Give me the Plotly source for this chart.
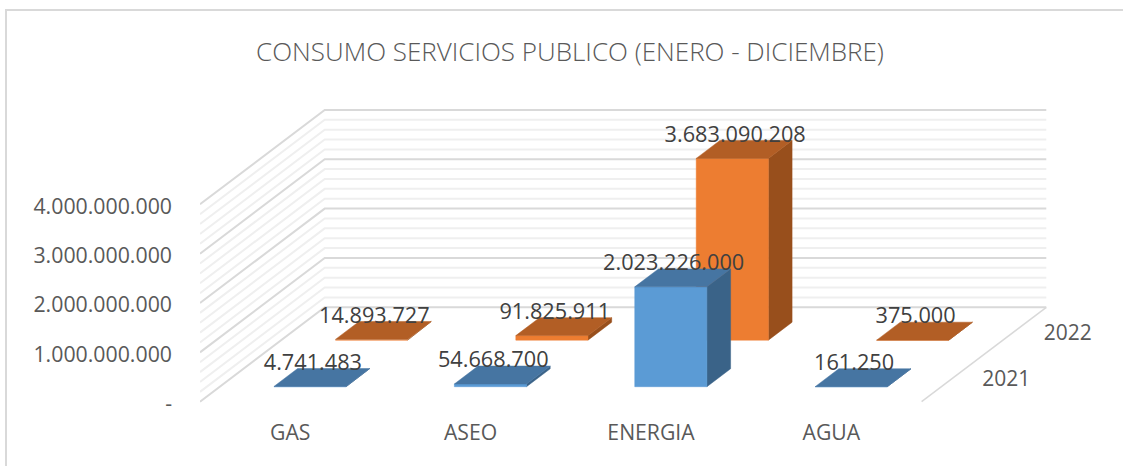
import plotly.graph_objects as go

TITLE = "CONSUMO SERVICIOS PUBLICO (ENERO - DICIEMBRE)"
categories = ["GAS", "ASEO", "ENERGIA", "AGUA"]
series_names = ["2021", "2022"]
values_2021 = [4741483, 54668700, 2023226000, 161250]
values_2022 = [14893727, 91825911, 3683090208, 375000]
value_ticks = [0, 1e9, 2e9, 3e9, 4e9]
value_tick_labels = ["-", "1.000.000.000", "2.000.000.000", "3.000.000.000", "4.000.000.000"]

PX_CAT = 180.4
PX_VAL = 49.35 / 1e9
DEPTH_DX = 124.7 / PX_CAT
DEPTH_DY = 94.4 / PX_VAL
BAR_W = 0.4
BAR_D = 0.19
W, H = 1123, 466
L, R, T, B = 200, 23, 100, 46
Y0 = 401.7


def proj(cat, depth, val):
    return cat + depth * DEPTH_DX, val + depth * DEPTH_DY


def polys(list_of_corners):
    xs, ys = [], []
    for corners in list_of_corners:
        pts = [proj(*c) for c in corners]
        pts.append(pts[0])
        xs += [p[0] for p in pts] + [None]
        ys += [p[1] for p in pts] + [None]
    return xs, ys


fig = go.Figure()


def line(points, color, width):
    pts = [proj(*p) for p in points]
    fig.add_trace(go.Scatter(x=[p[0] for p in pts], y=[p[1] for p in pts], mode="lines",
                             line=dict(color=color, width=width), hoverinfo="skip", showlegend=False))


n = len(categories)
minor = [i * 0.2e9 for i in range(21) if i % 5]
for v in minor:
    line([(0, 0, v), (0, 1, v), (n, 1, v)], "#EFEFEF", 2)
for v in value_ticks:
    line([(0, 0, v), (0, 1, v), (n, 1, v)], "#D9D9D9", 2)
line([(n, 0, 0), (n, 1, 0)], "#D9D9D9", 1.5)

styles = [
    dict(vals=values_2021, d0=0.159, front="#5B9BD5", top="#4675A2", side="#3A6388"),
    dict(vals=values_2022, d0=0.652, front="#ED7D31", top="#B25E25", side="#984F1C"),
]

for st in reversed(styles):
    front, top, side = [], [], []
    d0, d1 = st["d0"], st["d0"] + BAR_D
    for i, v in enumerate(st["vals"]):
        x0, x1 = i + 0.5 - BAR_W / 2, i + 0.5 + BAR_W / 2
        front.append([(x0, d0, 0), (x1, d0, 0), (x1, d0, v), (x0, d0, v)])
        top.append([(x0, d0, v), (x1, d0, v), (x1, d1, v), (x0, d1, v)])
        side.append([(x1, d0, 0), (x1, d1, 0), (x1, d1, v), (x1, d0, v)])
    for faces, key in ((side, "side"), (front, "front"), (top, "top")):
        xs, ys = polys(faces)
        fig.add_trace(go.Scatter(x=xs, y=ys, mode="lines", fill="toself", fillcolor=st[key],
                                 line=dict(color=st[key], width=0.5), hoverinfo="skip", showlegend=False))

lx, ly, lt = [], [], []
for st in styles:
    for i, v in enumerate(st["vals"]):
        px, py = proj(i + 0.5, st["d0"] + BAR_D / 2, v)
        lx.append(px - 9 / PX_CAT)
        ly.append(py + 13.3 / PX_VAL)
        lt.append(f"{v:,}".replace(",", "."))
fig.add_trace(go.Scatter(x=lx, y=ly, text=lt, mode="text", textposition="middle center",
                         textfont=dict(family="Open Sans", size=21.7, color="#404040"),
                         hoverinfo="skip", showlegend=False))

dx, dy, dt = [], [], []
for st, name in zip(styles, series_names):
    px, py = proj(n, st["d0"] + BAR_D / 2, 0)
    dx.append(px + 53 / PX_CAT)
    dy.append(py - 3.5 / PX_VAL)
    dt.append(name)
fig.add_trace(go.Scatter(x=dx, y=dy, text=dt, mode="text", textposition="middle center",
                         textfont=dict(family="Open Sans", size=21, color="#595959"),
                         hoverinfo="skip", showlegend=False))

plot_w, plot_h = W - L - R, H - T - B
fig.update_layout(
    width=W, height=H, margin=dict(l=L, r=R, t=T, b=B),
    paper_bgcolor="white", plot_bgcolor="white", showlegend=False,
    title=dict(text=TITLE, x=570 / W, y=1 - 52 / H, xanchor="center", yanchor="middle",
               font=dict(family="Open Sans", size=26, color="#595959", weight=300)),
    xaxis=dict(range=[0, plot_w / PX_CAT], tickmode="array",
               tickvals=[i + 0.5 for i in range(n)], ticktext=categories,
               showgrid=False, zeroline=False, showline=False, ticks="", ticklabelstandoff=-2,
               tickfont=dict(family="Open Sans", size=21.2, color="#595959")),
    yaxis=dict(range=[(Y0 - (T + plot_h)) / PX_VAL, (Y0 - T) / PX_VAL], tickmode="array",
               tickvals=value_ticks, ticktext=value_tick_labels,
               showgrid=False, zeroline=False, showline=False, ticks="", ticklabelstandoff=27,
               ticklabelshift=2,
               tickfont=dict(family="Open Sans", size=21.3, color="#595959")),
    shapes=[dict(type="rect", xref="paper", yref="paper",
                 x0=(6 - L) / plot_w, x1=(1200 - L) / plot_w,
                 y0=(H - B - 520) / plot_h, y1=(H - B - 10) / plot_h,
                 line=dict(color="#D9D9D9", width=2), layer="below")],
)
fig.write_html("out.html", config={"displayModeBar": False},
               post_script="document.body.style.margin='0';document.body.style.overflow='hidden';")
